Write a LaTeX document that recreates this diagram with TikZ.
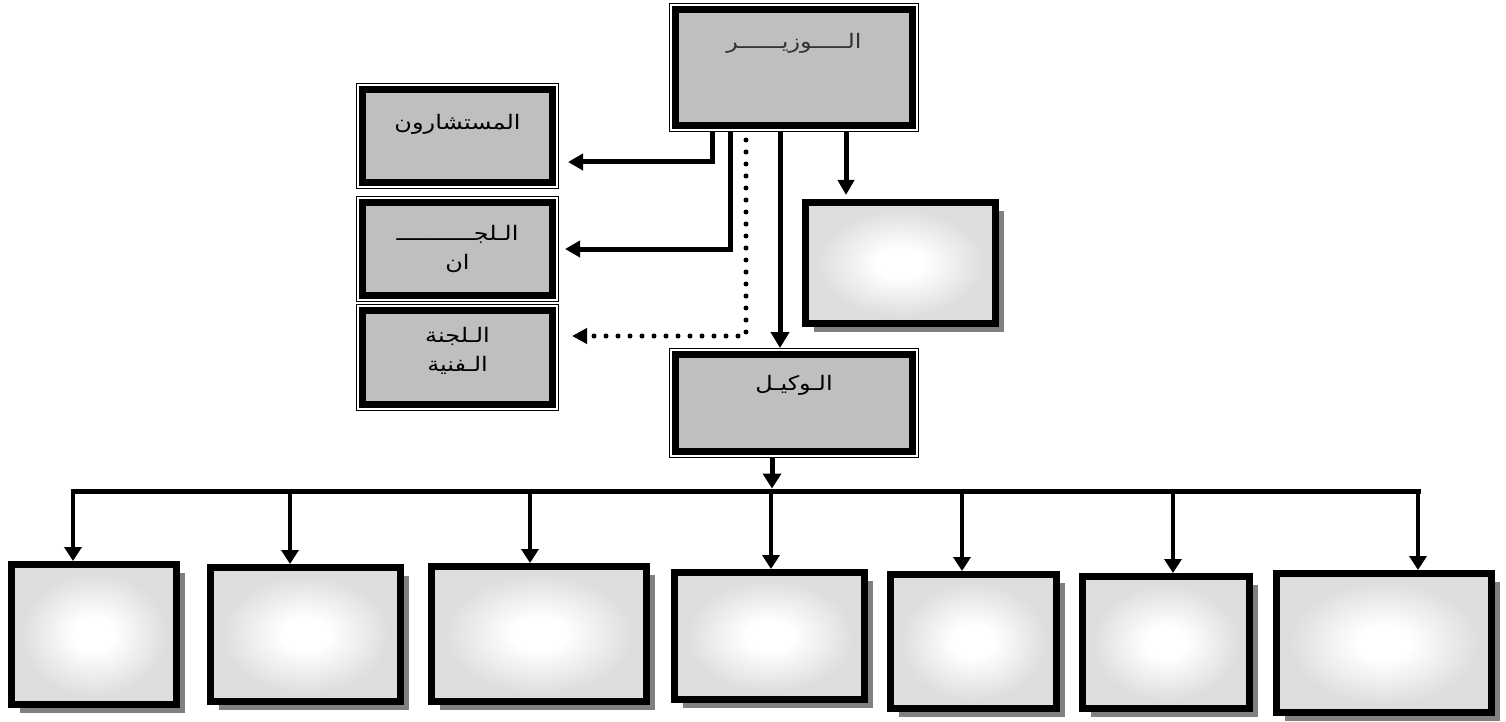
\documentclass[tikz,border=0pt]{standalone}
\usepackage{fontspec}
\newfontfamily\arabicfont[Script=Arabic, FakeStretch=1.2]{DejaVu Sans}
\TeXXeTstate=1
\usetikzlibrary{arrows.meta,shadows}
\pgfdeclareradialshading{glow}{\pgfpoint{0bp}{0bp}}{color(0bp)=(white); color(6bp)=(white); color(22bp)=(black!13); color(50bp)=(black!13)}
\newcommand{\drawhead}{\node[headbox]}
\newcommand{\drawblank}{\node[blankbox]}
\tikzset{
  headbox/.style={rectangle, fill=black!25, draw, line width=7pt, outer sep=6.5pt,
    preaction={draw, line width=13pt}, preaction={draw=white, line width=11pt},
    font=\arabicfont\fontsize{20}{29}\selectfont, inner sep=0pt},
  blankbox/.style={rectangle, draw, line width=7pt, shading=glow,
    drop shadow={shadow xshift=8.5pt, shadow yshift=-8.5pt, fill=black!50, opacity=1}},
  link/.style={line width=5pt, -{Triangle[width=16pt,length=15pt]}},
  dotlink/.style={line width=5pt, line cap=round, dash pattern=on 0pt off 12pt,
    -{Triangle[width=15pt,length=15pt]}},
  busline/.style={line width=5pt, line cap=rect},
  drop/.style={line width=4pt, -{Triangle[width=17pt,length=14pt]}}
}

\begin{document}
\begin{tikzpicture}[x=1pt, y=-1pt]
\useasboundingbox (0,0) rectangle (1506,722);
%top part
\drawhead (minister) [minimum width=237pt, minimum height=116pt, text height=14pt, text depth=51pt, text=black!80] at (794,67.5) {\beginR الـــــوزيــــــر\endR};
\drawhead (advisers) [minimum width=190pt, minimum height=93pt, text height=14pt, text depth=27pt] at (457.5,136) {\beginR المستشارون\endR};
\drawhead (comms) [minimum width=190pt, minimum height=93pt, align=center] at (457.5,249) {\beginR الـلجـــــــــــ\endR\\\beginR ان\endR};
\drawhead (techcomm) [minimum width=190pt, minimum height=94pt, align=center, text depth=16pt] at (457.5,357.5) {\beginR الـلجنة\endR\\\beginR الـفنية\endR};
\drawblank (side) [minimum width=190pt, minimum height=121pt] at (900.5,263) {};
\drawhead (wakil) [minimum width=237pt, minimum height=97pt, text height=14pt, text depth=39pt] at (794,403) {\beginR الـوكيـل\endR};

%bottom row
\drawblank (d1) [minimum width=165pt, minimum height=140pt] at (94,634.5) {};
\drawblank (d2) [minimum width=190pt, minimum height=134pt] at (305.5,634.5) {};
\drawblank (d3) [minimum width=215pt, minimum height=135pt] at (539,634) {};
\drawblank (d4) [minimum width=190pt, minimum height=127pt] at (769.5,636) {};
\drawblank (d5) [minimum width=166pt, minimum height=134pt] at (973.5,641.5) {};
\drawblank (d6) [minimum width=167pt, minimum height=132pt] at (1166,642.5) {};
\drawblank (d7) [minimum width=215pt, minimum height=139pt] at (1384,643) {};

\coordinate (bus) at (772,491);

%links out of the minister
\draw[link, shorten >=9pt] ([xshift=43pt]minister.south west) |- ([yshift=-26pt]advisers.east);
\draw[link, shorten >=6pt] ([xshift=61pt]minister.south west) |- (comms.east);
\draw[dotlink, shorten <=8pt, shorten >=13pt] ([xshift=77pt]minister.south west) |- ([yshift=21.5pt]techcomm.east);
\draw[link, -{Triangle[width=18pt,length=16pt]}] ([xshift=111pt]minister.south west) -- ([xshift=111pt]minister.south west |- wakil.north);
\draw[link, shorten >=4pt] ([xshift=177pt]minister.south west) -- ([xshift=177pt]minister.south west |- side.north);

%wakil down to the row
\draw[link, -{Triangle[width=18pt,length=15pt]}, shorten >=2.5pt] (bus |- wakil.south) -- (bus);
\draw[busline] ([xshift=-21pt]d1.north |- bus) -- ([xshift=34pt]d7.north |- bus);
\foreach \b/\dx in {d1/-21, d2/-15.5, d3/-9, d4/1.5, d5/-11.5, d6/7, d7/34}
  \draw[drop] ([xshift=\dx pt]\b.north |- bus) -- ([xshift=\dx pt]\b.north);
\end{tikzpicture}
\end{document}
